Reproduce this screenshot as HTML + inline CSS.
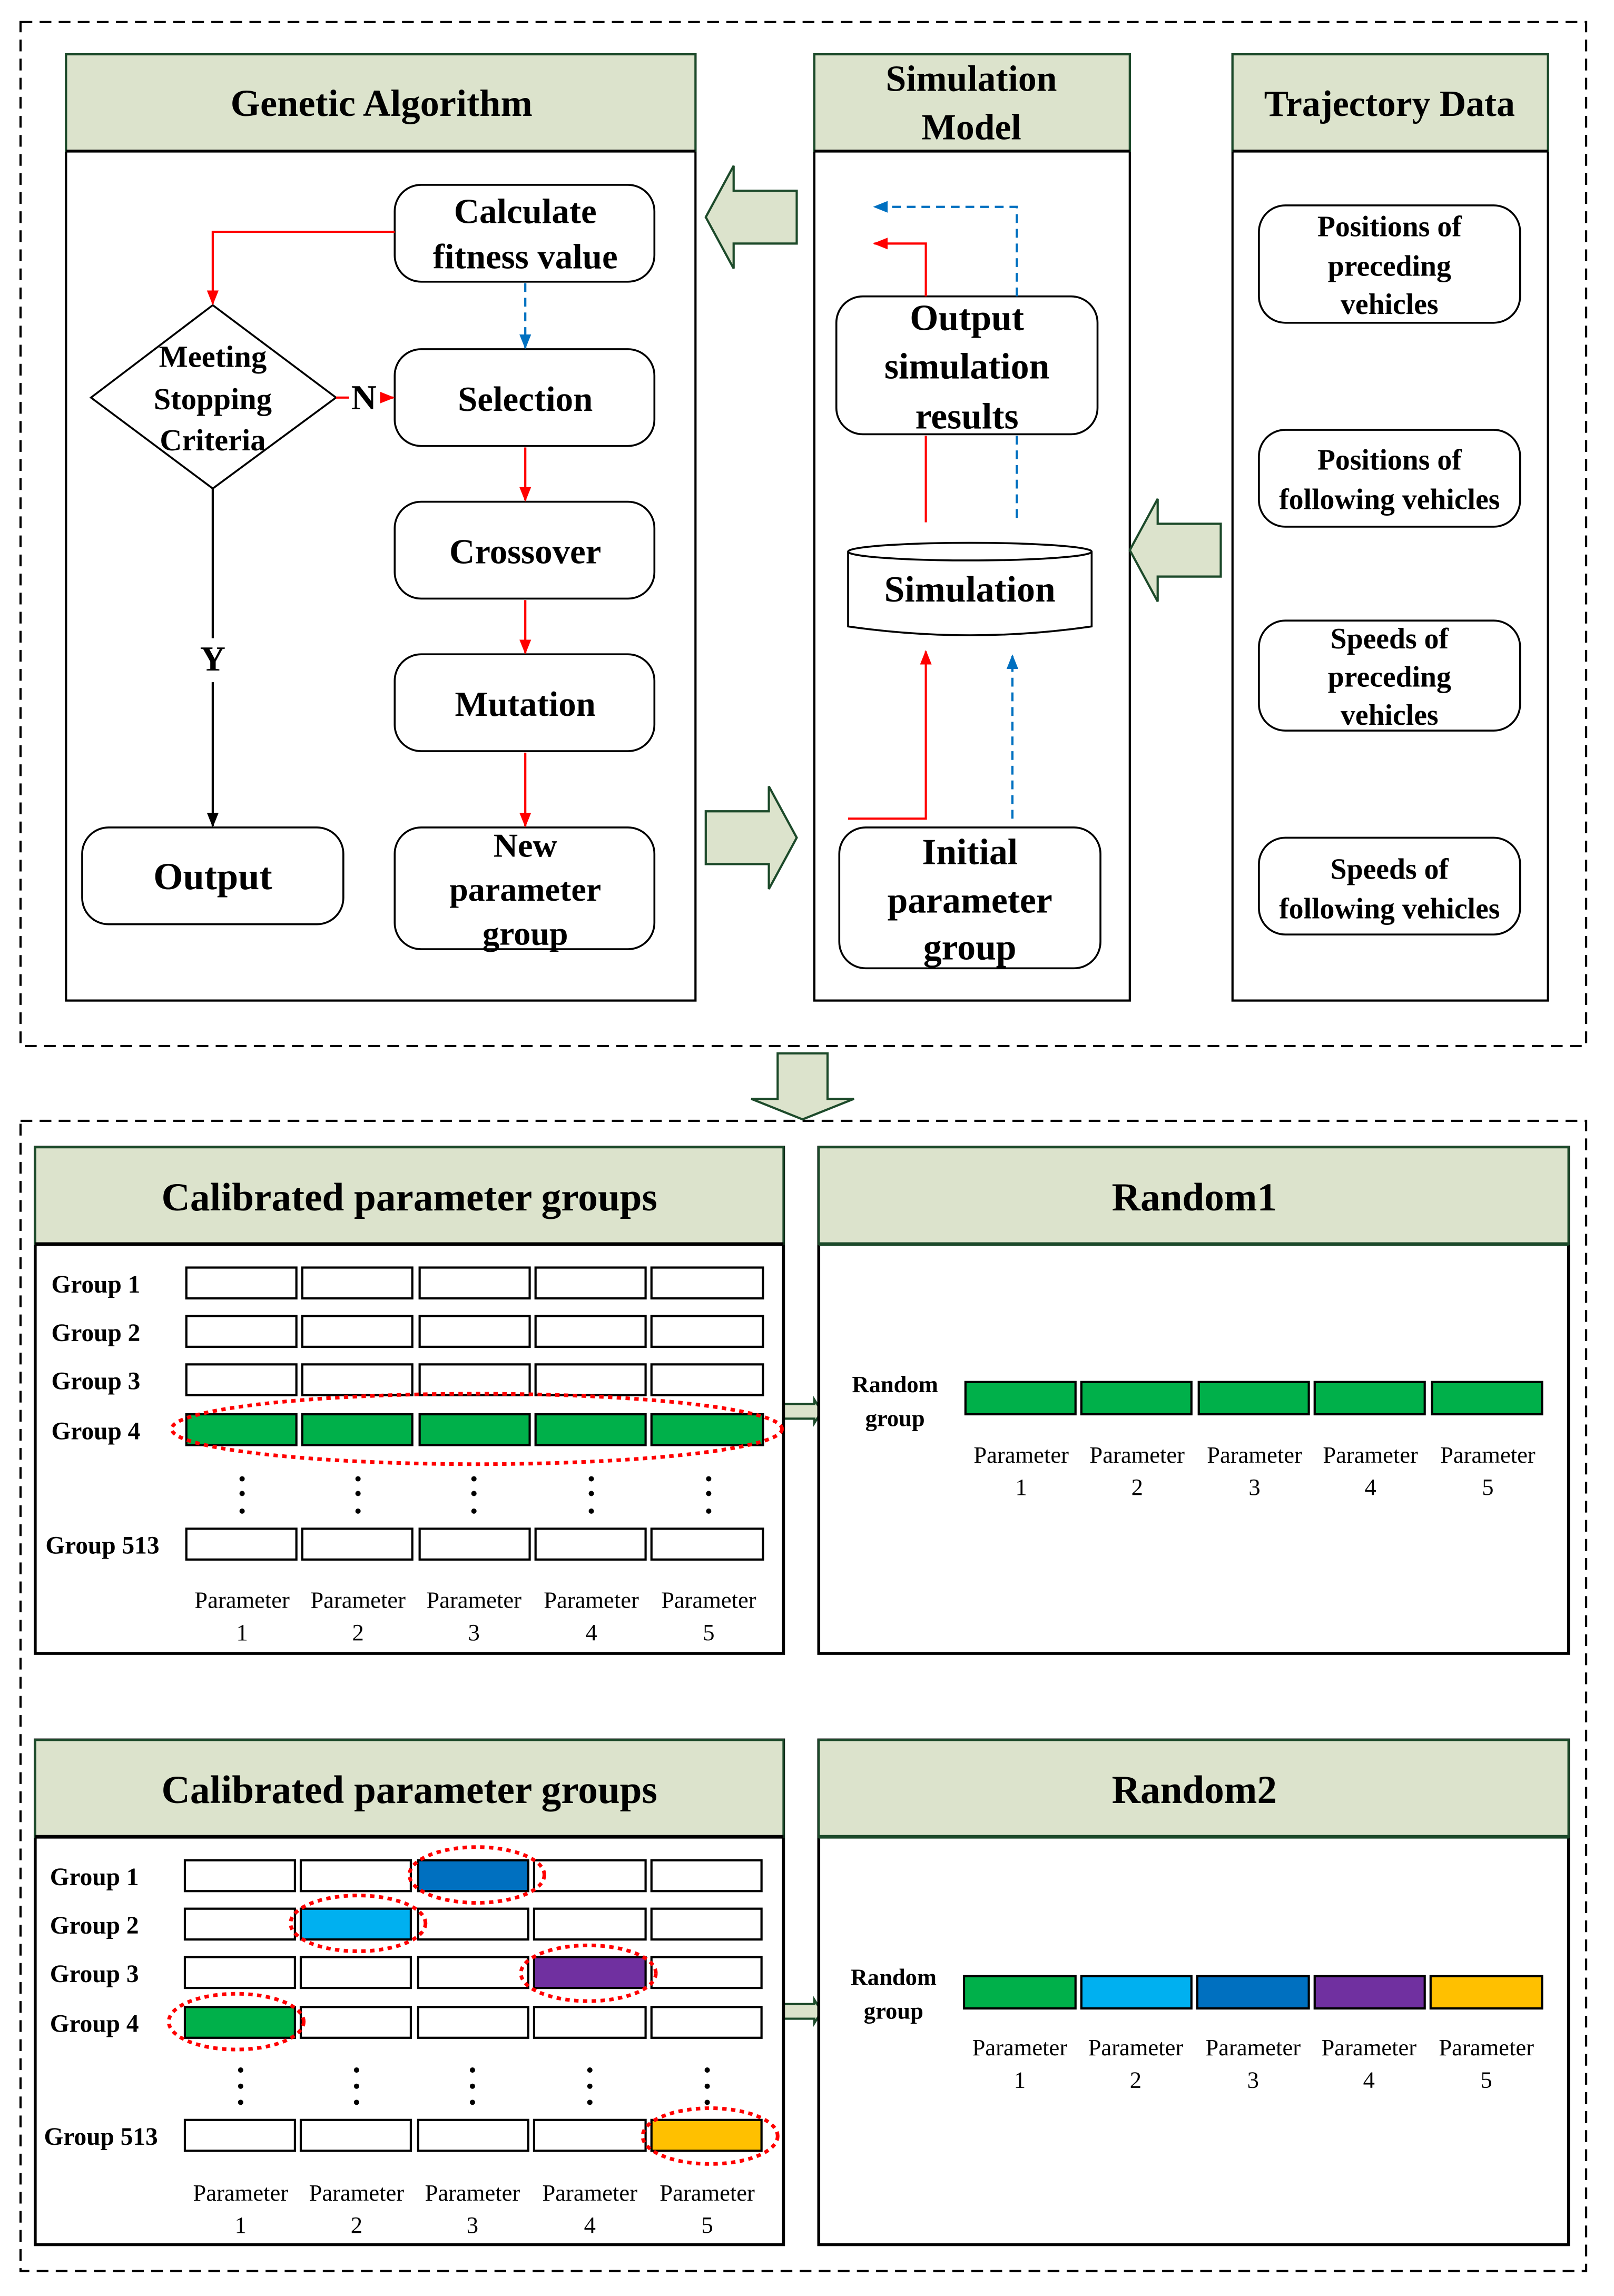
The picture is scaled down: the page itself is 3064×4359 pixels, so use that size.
<!DOCTYPE html>
<html><head><meta charset="utf-8"><style>
html,body{margin:0;padding:0;background:#fff}
svg{display:block}
text{font-family:"Liberation Serif",serif;fill:#000}
.b{font-weight:bold}
</style></head><body>
<svg width="3064" height="4359" viewBox="0 0 1100 1565" preserveAspectRatio="none" xmlns="http://www.w3.org/2000/svg">
<defs>
<marker id="ar" markerWidth="10" markerHeight="10" refX="9" refY="5" orient="auto" markerUnits="userSpaceOnUse"><path d="M0,1 L10,5 L0,9 Z" fill="#ff0000"/></marker>
<marker id="ab" markerWidth="10" markerHeight="10" refX="9" refY="5" orient="auto" markerUnits="userSpaceOnUse"><path d="M0,1 L10,5 L0,9 Z" fill="#0070c0"/></marker>
<marker id="ak" markerWidth="10" markerHeight="10" refX="9" refY="5" orient="auto" markerUnits="userSpaceOnUse"><path d="M0,1 L10,5 L0,9 Z" fill="#000"/></marker>
</defs>
<rect width="1100" height="1565" fill="#fff"/>
<!-- dashed outer boxes -->
<rect x="14" y="15" width="1067" height="698" fill="none" stroke="#000" stroke-width="1.5" stroke-dasharray="8,5"/>
<rect x="14" y="764" width="1067" height="784" fill="none" stroke="#000" stroke-width="1.5" stroke-dasharray="8,5"/>

<!-- panels top -->
<g stroke-width="1.5">
<rect x="45" y="37" width="429" height="645" fill="#fff" stroke="#000"/>
<rect x="45" y="37" width="429" height="66" fill="#dce3cc" stroke="#1c4a2a"/>
<rect x="555" y="37" width="215" height="645" fill="#fff" stroke="#000"/>
<rect x="555" y="37" width="215" height="66" fill="#dce3cc" stroke="#1c4a2a"/>
<rect x="840" y="37" width="215" height="645" fill="#fff" stroke="#000"/>
<rect x="840" y="37" width="215" height="66" fill="#dce3cc" stroke="#1c4a2a"/>
<line x1="45" y1="103" x2="474" y2="103" stroke="#000" stroke-width="2"/>
<line x1="555" y1="103" x2="770" y2="103" stroke="#000" stroke-width="2"/>
<line x1="840" y1="103" x2="1055" y2="103" stroke="#000" stroke-width="2"/>
</g>
<text x="260" y="79" class="b" font-size="26" text-anchor="middle">Genetic Algorithm</text>
<text x="662" y="62" class="b" font-size="25" text-anchor="middle">Simulation</text>
<text x="662" y="95" class="b" font-size="25" text-anchor="middle">Model</text>
<text x="947" y="79" class="b" font-size="25" text-anchor="middle">Trajectory Data</text>

<!-- GA nodes -->
<g fill="#fff" stroke="#000" stroke-width="1.3">
<rect x="269" y="126" width="177" height="66" rx="18"/>
<rect x="269" y="238" width="177" height="66" rx="18"/>
<rect x="269" y="342" width="177" height="66" rx="18"/>
<rect x="269" y="446" width="177" height="66" rx="18"/>
<rect x="269" y="564" width="177" height="83" rx="18"/>
<rect x="56" y="564" width="178" height="66" rx="18"/>
<polygon points="145,208 229,271 145,333 62,271"/>
</g>
<g class="b" font-size="24" text-anchor="middle">
<text x="358" y="152" class="b">Calculate</text>
<text x="358" y="183" class="b">fitness value</text>
<text x="358" y="280" class="b">Selection</text>
<text x="358" y="384" class="b">Crossover</text>
<text x="358" y="488" class="b">Mutation</text>
<text x="358" y="584" class="b" font-size="23">New</text>
<text x="358" y="614" class="b" font-size="23">parameter</text>
<text x="358" y="644" class="b" font-size="23">group</text>
<text x="145" y="606" class="b" font-size="26">Output</text>
<text x="145" y="250" class="b" font-size="21">Meeting</text>
<text x="145" y="279" class="b" font-size="21">Stopping</text>
<text x="145" y="307" class="b" font-size="21">Criteria</text>
<text x="248" y="279" class="b" font-size="24">N</text>
<text x="145" y="457" class="b" font-size="24">Y</text>
</g>
<g fill="none" stroke-width="1.5">
<polyline points="269,158 145,158 145,207" stroke="#ff0000" marker-end="url(#ar)"/>
<line x1="358" y1="193" x2="358" y2="237" stroke="#0070c0" stroke-dasharray="6,4" marker-end="url(#ab)"/>
<line x1="229" y1="271" x2="238" y2="271" stroke="#ff0000"/>
<line x1="259" y1="271" x2="268" y2="271" stroke="#ff0000" marker-end="url(#ar)"/>
<line x1="358" y1="305" x2="358" y2="341" stroke="#ff0000" marker-end="url(#ar)"/>
<line x1="358" y1="409" x2="358" y2="445" stroke="#ff0000" marker-end="url(#ar)"/>
<line x1="358" y1="513" x2="358" y2="563" stroke="#ff0000" marker-end="url(#ar)"/>
<line x1="145" y1="333" x2="145" y2="435" stroke="#000"/>
<line x1="145" y1="465" x2="145" y2="563" stroke="#000" marker-end="url(#ak)"/>
</g>

<!-- Simulation model -->
<g fill="#fff" stroke="#000" stroke-width="1.3">
<rect x="570" y="202" width="178" height="94" rx="18"/>
<rect x="572" y="564" width="178" height="96" rx="18"/>
<path d="M578,376 L578,427 Q661,439 744,427 L744,376"/>
<ellipse cx="661" cy="376" rx="83" ry="6"/>
</g>
<g text-anchor="middle" font-size="25">
<text x="659" y="225" class="b">Output</text>
<text x="659" y="258" class="b">simulation</text>
<text x="659" y="292" class="b">results</text>
<text x="661" y="410" class="b">Simulation</text>
<text x="661" y="589" class="b">Initial</text>
<text x="661" y="622" class="b">parameter</text>
<text x="661" y="654" class="b">group</text>
</g>
<g fill="none" stroke-width="1.5">
<polyline points="631,202 631,166 596,166" stroke="#ff0000" marker-end="url(#ar)"/>
<polyline points="693,202 693,141 596,141" stroke="#0070c0" stroke-dasharray="6,4" marker-end="url(#ab)"/>
<line x1="631" y1="297" x2="631" y2="356" stroke="#ff0000"/>
<line x1="693" y1="297" x2="693" y2="356" stroke="#0070c0" stroke-dasharray="6,4"/>
<polyline points="578,558 631,558 631,444" stroke="#ff0000" marker-end="url(#ar)"/>
<line x1="690" y1="558" x2="690" y2="447" stroke="#0070c0" stroke-dasharray="6,4" marker-end="url(#ab)"/>
</g>

<!-- Trajectory nodes -->
<g fill="#fff" stroke="#000" stroke-width="1.3">
<rect x="858" y="140" width="178" height="80" rx="18"/>
<rect x="858" y="293" width="178" height="66" rx="18"/>
<rect x="858" y="423" width="178" height="75" rx="18"/>
<rect x="858" y="571" width="178" height="66" rx="18"/>
</g>
<g text-anchor="middle" font-size="20">
<text x="947" y="161" class="b">Positions of</text>
<text x="947" y="188" class="b">preceding</text>
<text x="947" y="214" class="b">vehicles</text>
<text x="947" y="320" class="b">Positions of</text>
<text x="947" y="347" class="b">following vehicles</text>
<text x="947" y="442" class="b">Speeds of</text>
<text x="947" y="468" class="b">preceding</text>
<text x="947" y="494" class="b">vehicles</text>
<text x="947" y="599" class="b">Speeds of</text>
<text x="947" y="626" class="b">following vehicles</text>
</g>

<!-- big hollow arrows -->
<g fill="#dce3cc" stroke="#1c4a2a" stroke-width="1.5">
<polygon points="481,148 500,113 500,130 543,130 543,166 500,166 500,183"/>
<polygon points="543,571 524,536 524,553 481,553 481,589 524,589 524,606"/>
<polygon points="770,375 789,340 789,357 832,357 832,393 789,393 789,410"/>
<polygon points="547,763 512,749 530,749 530,718 564,718 564,749 582,749"/>
<polygon points="560,962 555,954 555,957 534,957 534,967 555,967 555,970"/>
<polygon points="560,1371 555,1363 555,1366 534,1366 534,1376 555,1376 555,1379"/>
</g>

<!-- bottom panels -->
<g stroke-width="1.5">
<rect x="24" y="782" width="510" height="345" fill="#fff" stroke="#000" stroke-width="2"/>
<rect x="24" y="782" width="510" height="66" fill="#dce3cc" stroke="#1c4a2a"/>
<rect x="558" y="782" width="511" height="345" fill="#fff" stroke="#000" stroke-width="2"/>
<rect x="558" y="782" width="511" height="66" fill="#dce3cc" stroke="#1c4a2a"/>
<rect x="24" y="1186" width="510" height="344" fill="#fff" stroke="#000" stroke-width="2"/>
<rect x="24" y="1186" width="510" height="66" fill="#dce3cc" stroke="#1c4a2a"/>
<rect x="558" y="1186" width="511" height="344" fill="#fff" stroke="#000" stroke-width="2"/>
<rect x="558" y="1186" width="511" height="66" fill="#dce3cc" stroke="#1c4a2a"/>
<line x1="24" y1="848" x2="534" y2="848" stroke="#000" stroke-width="2.5"/>
<line x1="558" y1="848" x2="1069" y2="848" stroke="#1c4a2a" stroke-width="2.5"/>
<line x1="24" y1="1252" x2="534" y2="1252" stroke="#000" stroke-width="2.5"/>
<line x1="558" y1="1252" x2="1069" y2="1252" stroke="#1c4a2a" stroke-width="2.5"/>
</g>
<g text-anchor="middle" font-size="27">
<text x="279" y="825" class="b">Calibrated parameter groups</text>
<text x="814" y="825" class="b">Random1</text>
<text x="279" y="1229" class="b">Calibrated parameter groups</text>
<text x="814" y="1229" class="b">Random2</text>
</g>

<!-- panel 1 grid -->
<g fill="#fff" stroke="#000" stroke-width="1.5">
<rect x="127" y="864" width="75" height="21"/><rect x="206" y="864" width="75" height="21"/><rect x="286" y="864" width="75" height="21"/><rect x="365" y="864" width="75" height="21"/><rect x="444" y="864" width="76" height="21"/>
<rect x="127" y="897" width="75" height="21"/><rect x="206" y="897" width="75" height="21"/><rect x="286" y="897" width="75" height="21"/><rect x="365" y="897" width="75" height="21"/><rect x="444" y="897" width="76" height="21"/>
<rect x="127" y="930" width="75" height="21"/><rect x="206" y="930" width="75" height="21"/><rect x="286" y="930" width="75" height="21"/><rect x="365" y="930" width="75" height="21"/><rect x="444" y="930" width="76" height="21"/>
<g fill="#00b04a"><rect x="127" y="964" width="75" height="21"/><rect x="206" y="964" width="75" height="21"/><rect x="286" y="964" width="75" height="21"/><rect x="365" y="964" width="75" height="21"/><rect x="444" y="964" width="76" height="21"/></g>
<rect x="127" y="1042" width="75" height="21"/><rect x="206" y="1042" width="75" height="21"/><rect x="286" y="1042" width="75" height="21"/><rect x="365" y="1042" width="75" height="21"/><rect x="444" y="1042" width="76" height="21"/>
</g>
<ellipse cx="325" cy="974" rx="208" ry="24" fill="none" stroke="#ff0000" stroke-width="2.5" stroke-dasharray="3,3"/>
<g font-size="17">
<text x="35" y="881" class="b">Group 1</text>
<text x="35" y="914" class="b">Group 2</text>
<text x="35" y="947" class="b">Group 3</text>
<text x="35" y="981" class="b">Group 4</text>
<text x="31" y="1059" class="b">Group 513</text>
</g>
<g fill="#000">
<circle cx="165" cy="1008" r="1.8"/><circle cx="165" cy="1018" r="1.8"/><circle cx="165" cy="1030" r="1.8"/>
<circle cx="244" cy="1008" r="1.8"/><circle cx="244" cy="1018" r="1.8"/><circle cx="244" cy="1030" r="1.8"/>
<circle cx="323" cy="1008" r="1.8"/><circle cx="323" cy="1018" r="1.8"/><circle cx="323" cy="1030" r="1.8"/>
<circle cx="403" cy="1008" r="1.8"/><circle cx="403" cy="1018" r="1.8"/><circle cx="403" cy="1030" r="1.8"/>
<circle cx="483" cy="1008" r="1.8"/><circle cx="483" cy="1018" r="1.8"/><circle cx="483" cy="1030" r="1.8"/>
</g>
<g font-size="16" text-anchor="middle">
<text x="165" y="1096">Parameter</text><text x="244" y="1096">Parameter</text><text x="323" y="1096">Parameter</text><text x="403" y="1096">Parameter</text><text x="483" y="1096">Parameter</text>
<text x="165" y="1118">1</text><text x="244" y="1118">2</text><text x="323" y="1118">3</text><text x="403" y="1118">4</text><text x="483" y="1118">5</text>
</g>

<!-- Random1 -->
<g stroke="#000" stroke-width="1.5" fill="#00b04a">
<rect x="658" y="942" width="75" height="22"/><rect x="737" y="942" width="75" height="22"/><rect x="817" y="942" width="75" height="22"/><rect x="896" y="942" width="75" height="22"/><rect x="976" y="942" width="75" height="22"/>
</g>
<g font-size="16" text-anchor="middle">
<text x="610" y="949" class="b">Random</text><text x="610" y="972" class="b">group</text>
<text x="696" y="997">Parameter</text><text x="775" y="997">Parameter</text><text x="855" y="997">Parameter</text><text x="934" y="997">Parameter</text><text x="1014" y="997">Parameter</text>
<text x="696" y="1019">1</text><text x="775" y="1019">2</text><text x="855" y="1019">3</text><text x="934" y="1019">4</text><text x="1014" y="1019">5</text>
</g>

<!-- panel 2 grid -->
<g fill="#fff" stroke="#000" stroke-width="1.5">
<rect x="126" y="1268" width="75" height="21"/><rect x="205" y="1268" width="75" height="21"/><rect x="285" y="1268" width="75" height="21" fill="#0070c0"/><rect x="364" y="1268" width="76" height="21"/><rect x="444" y="1268" width="75" height="21"/>
<rect x="126" y="1301" width="75" height="21"/><rect x="205" y="1301" width="75" height="21" fill="#00b0f0"/><rect x="285" y="1301" width="75" height="21"/><rect x="364" y="1301" width="76" height="21"/><rect x="444" y="1301" width="75" height="21"/>
<rect x="126" y="1334" width="75" height="21"/><rect x="205" y="1334" width="75" height="21"/><rect x="285" y="1334" width="75" height="21"/><rect x="364" y="1334" width="76" height="21" fill="#7030a0"/><rect x="444" y="1334" width="75" height="21"/>
<rect x="126" y="1368" width="75" height="21" fill="#00b04a"/><rect x="205" y="1368" width="75" height="21"/><rect x="285" y="1368" width="75" height="21"/><rect x="364" y="1368" width="76" height="21"/><rect x="444" y="1368" width="75" height="21"/>
<rect x="126" y="1445" width="75" height="21"/><rect x="205" y="1445" width="75" height="21"/><rect x="285" y="1445" width="75" height="21"/><rect x="364" y="1445" width="76" height="21"/><rect x="444" y="1445" width="75" height="21" fill="#ffc000"/>
</g>
<g fill="none" stroke="#ff0000" stroke-width="2.5" stroke-dasharray="3,3">
<ellipse cx="325" cy="1278" rx="46" ry="19"/>
<ellipse cx="244" cy="1311" rx="46" ry="19"/>
<ellipse cx="401" cy="1345" rx="46" ry="19"/>
<ellipse cx="161" cy="1378" rx="46" ry="19"/>
<ellipse cx="484" cy="1456" rx="46" ry="19"/>
</g>
<g font-size="17">
<text x="34" y="1285" class="b">Group 1</text>
<text x="34" y="1318" class="b">Group 2</text>
<text x="34" y="1351" class="b">Group 3</text>
<text x="34" y="1385" class="b">Group 4</text>
<text x="30" y="1462" class="b">Group 513</text>
</g>
<g fill="#000">
<circle cx="164" cy="1411" r="1.8"/><circle cx="164" cy="1422" r="1.8"/><circle cx="164" cy="1433" r="1.8"/>
<circle cx="243" cy="1411" r="1.8"/><circle cx="243" cy="1422" r="1.8"/><circle cx="243" cy="1433" r="1.8"/>
<circle cx="322" cy="1411" r="1.8"/><circle cx="322" cy="1422" r="1.8"/><circle cx="322" cy="1433" r="1.8"/>
<circle cx="402" cy="1411" r="1.8"/><circle cx="402" cy="1422" r="1.8"/><circle cx="402" cy="1433" r="1.8"/>
<circle cx="482" cy="1411" r="1.8"/><circle cx="482" cy="1422" r="1.8"/><circle cx="482" cy="1433" r="1.8"/>
</g>
<g font-size="16" text-anchor="middle">
<text x="164" y="1500">Parameter</text><text x="243" y="1500">Parameter</text><text x="322" y="1500">Parameter</text><text x="402" y="1500">Parameter</text><text x="482" y="1500">Parameter</text>
<text x="164" y="1522">1</text><text x="243" y="1522">2</text><text x="322" y="1522">3</text><text x="402" y="1522">4</text><text x="482" y="1522">5</text>
</g>

<!-- Random2 -->
<g stroke="#000" stroke-width="1.5">
<rect x="657" y="1347" width="76" height="22" fill="#00b04a"/><rect x="737" y="1347" width="75" height="22" fill="#00b0f0"/><rect x="816" y="1347" width="76" height="22" fill="#0070c0"/><rect x="896" y="1347" width="75" height="22" fill="#7030a0"/><rect x="975" y="1347" width="76" height="22" fill="#ffc000"/>
</g>
<g font-size="16" text-anchor="middle">
<text x="609" y="1353" class="b">Random</text><text x="609" y="1376" class="b">group</text>
<text x="695" y="1401">Parameter</text><text x="774" y="1401">Parameter</text><text x="854" y="1401">Parameter</text><text x="933" y="1401">Parameter</text><text x="1013" y="1401">Parameter</text>
<text x="695" y="1423">1</text><text x="774" y="1423">2</text><text x="854" y="1423">3</text><text x="933" y="1423">4</text><text x="1013" y="1423">5</text>
</g>
</svg>
</body></html>
